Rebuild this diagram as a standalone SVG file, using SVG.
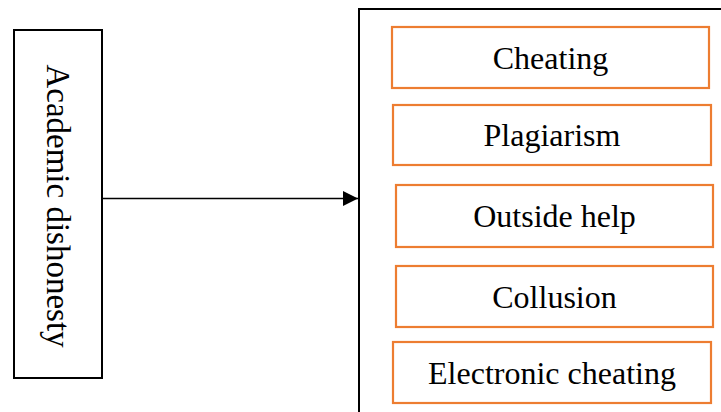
<svg xmlns="http://www.w3.org/2000/svg" width="721" height="412" viewBox="0 0 721 412">
<style>
.frame{fill:#fff;stroke:#000;stroke-width:2}
.item{fill:#fff;stroke:#ED7D31;stroke-width:2.2}
.lbl{font-family:"Liberation Serif","Times New Roman",serif;font-size:32px;fill:#000;text-anchor:middle}
</style>
<defs>
<marker id="ah" markerWidth="15" markerHeight="15" refX="15" refY="7.5" orient="auto" markerUnits="userSpaceOnUse">
<path d="M0,0 L15,7.5 L0,15 Z" fill="#000"/>
</marker>
</defs>
<rect width="721" height="412" fill="#fff"/>
<g id="academic-dishonesty">
<rect class="frame" x="14" y="30" width="88" height="348"/>
<text class="lbl" style="font-size:33px" transform="translate(47,206) rotate(90)">Academic dishonesty</text>
</g>
<g id="forms">
<rect class="frame" x="359" y="9" width="400" height="420"/>
</g>
<g id="cheating">
<rect class="item" x="392" y="27" width="317" height="61"/>
<text class="lbl" x="550.5" y="68.5">Cheating</text>
</g>
<g id="plagiarism">
<rect class="item" x="393" y="105" width="318" height="60"/>
<text class="lbl" x="552" y="146">Plagiarism</text>
</g>
<g id="outside-help">
<rect class="item" x="396" y="185" width="317" height="62"/>
<text class="lbl" x="554.5" y="227">Outside help</text>
</g>
<g id="collusion">
<rect class="item" x="396" y="266" width="317" height="61"/>
<text class="lbl" x="554.5" y="307.5">Collusion</text>
</g>
<g id="electronic-cheating">
<rect class="item" x="393" y="342" width="318" height="61"/>
<text class="lbl" x="552" y="383.5">Electronic cheating</text>
</g>
<g id="connectors">
<line x1="102" y1="198.5" x2="358" y2="198.5" stroke="#000" stroke-width="1.3" marker-end="url(#ah)"/>
</g>
</svg>
